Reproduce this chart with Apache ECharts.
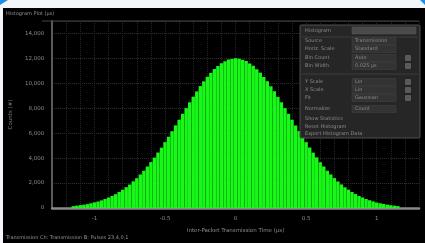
<!DOCTYPE html>
<html>
<head>
<meta charset="utf-8">
<script src="https://cdn.jsdelivr.net/npm/echarts@6/dist/echarts.min.js"></script>
<style>
    html, body { margin: 0; padding: 0; background: #f3f7fb; }
    #chart { width: 425px; height: 243px; }
</style>
</head>
<body>
<div id="chart"></div>
<script>
// histogram bins: first bin centre, bin width, counts per bin
const binStart = -1.15;
const binWidth = 0.025;
const counts = [
    150, 190, 230, 270, 310, 380, 450, 520, 610, 720,
    840, 970, 1110, 1290, 1460, 1670, 1880, 2140, 2390, 2690,
    2990, 3330, 3680, 4040, 4450, 4840, 5280, 5720, 6160, 6630,
    7080, 7560, 8010, 8480, 8930, 9350, 9780, 10160, 10530, 10840,
    11150, 11390, 11620, 11770, 11910, 11960, 12010,
    11980, 11890, 11790, 11600, 11410, 11130, 10860, 10510, 10170, 9760,
    9370, 8920, 8480, 8010, 7560, 7080, 6620, 6170, 5710, 5280,
    4850, 4440, 4060, 3670, 3330, 2990, 2690, 2400, 2130, 1890,
    1660, 1470, 1280, 1120, 960, 840, 720, 620, 530, 440,
    380, 320, 270, 220, 190, 150
];
const xTickLabels = ['-1', '-0.5', '0', '0.5', '1'];
const yTickLabels = ['0', '2,000', '4,000', '6,000', '8,000', '10,000', '12,000', '14,000'];

const titleText = 'Histogram Plot (\u00b5s)';
const xName = 'Inter-Packet Transmission Time (\u00b5s)';
const yName = 'Counts (#)';
const footerText = 'Transmission Ch: Transmission B: Pulses 23,4,0,1';

// settings panel rows (label, value, has checkbox, y)
const panelRows = [
    ['Source', 'Transmission', false, 41],
    ['Horiz. Scale', 'Standard', false, 49],
    ['Bin Count', 'Auto', true, 58],
    ['Bin Width', '0.025 \u00b5s', true, 66],
    ['Y Scale', 'Lin', true, 82],
    ['X Scale', 'Lin', true, 90],
    ['Fit', 'Gaussian', true, 98],
    ['Normalize', 'Count', false, 109]
];
const panelLinks = [['Show Statistics', 119], ['Reset Histogram', 127], ['Export Histogram Data', 134]];

const barData = counts.map((c, i) => [binStart + i * binWidth, c]);

const chart = echarts.init(document.getElementById('chart'), null, { renderer: 'canvas' });

const txt = { fill: '#8a8a8a', fontSize: 5, fontFamily: 'DejaVu Sans' };

const panel = [];
panel.push({ type: 'rect', shape: { x: 300, y: 25, width: 120, height: 113, r: 1 },
    style: { fill: 'rgba(40,40,40,0.96)', stroke: '#505050', lineWidth: 1 }, z: 100 });
panel.push({ type: 'text', x: 305, y: 28, style: Object.assign({ text: 'Histogram' }, txt), z: 101 });
panel.push({ type: 'rect', shape: { x: 352, y: 27, width: 64, height: 7 },
    style: { fill: '#4a4a4a', stroke: '#5a5a5a', lineWidth: 0.5 }, z: 101 });
panel.push({ type: 'line', shape: { x1: 302, y1: 37, x2: 418, y2: 37 }, style: { stroke: '#3c3c3c', lineWidth: 1 }, z: 101 });
panel.push({ type: 'line', shape: { x1: 302, y1: 74, x2: 418, y2: 74 }, style: { stroke: '#3c3c3c', lineWidth: 1 }, z: 101 });
panelRows.forEach(r => {
    panel.push({ type: 'text', x: 305, y: r[3] - 3, style: Object.assign({ text: r[0] }, txt), z: 101 });
    panel.push({ type: 'rect', shape: { x: 352, y: r[3] - 3.5, width: 44, height: 7 },
        style: { fill: '#333', stroke: '#454545', lineWidth: 0.5 }, z: 101 });
    panel.push({ type: 'text', x: 355, y: r[3] - 3, style: Object.assign({ text: r[1] }, txt), z: 102 });
    if (r[2]) {
        panel.push({ type: 'rect', shape: { x: 405, y: r[3] - 3, width: 6, height: 6, r: 1 },
            style: { fill: '#5a5a5a' }, z: 101 });
    }
});
panelLinks.forEach(r => {
    panel.push({ type: 'text', x: 305, y: r[1] - 3, style: Object.assign({ text: r[0] }, txt), z: 101 });
});

const option = {
    backgroundColor: '#000',
    animation: false,
    grid: { left: 42, right: 6, top: 21, bottom: 35, containLabel: false },
    xAxis: {
        type: 'value',
        min: -1.3,
        max: 1.3,
        interval: 0.1,
        name: xName,
        nameLocation: 'middle',
        nameGap: 20,
        nameTextStyle: { color: '#8a8a8a', fontSize: 5.5, fontFamily: 'DejaVu Sans' },
        axisLine: { show: true, onZero: false, lineStyle: { color: '#8a8a8a', width: 2.5 } },
        axisTick: { show: false },
        axisLabel: {
            color: '#8a8a8a', fontSize: 5.5, fontFamily: 'DejaVu Sans', margin: 8,
            showMinLabel: false, showMaxLabel: false,
            formatter: v => {
                const k = Math.round(v * 2);
                if (Math.abs(v * 2 - k) > 1e-6) return '';
                return xTickLabels[k + 2] || '';
            }
        },
        splitLine: { show: true, lineStyle: { color: '#262626', type: 'dotted', width: 1 } }
    },
    yAxis: {
        type: 'value',
        min: 0,
        max: 15000,
        interval: 2000,
        name: yName,
        nameLocation: 'middle',
        nameGap: 29,
        nameTextStyle: { color: '#7a7a7a', fontSize: 5.5, fontFamily: 'DejaVu Sans' },
        axisLine: { show: true, onZero: false, lineStyle: { color: '#5a5a5a', width: 2 } },
        axisTick: { show: false },
        axisLabel: {
            color: '#8a8a8a', fontSize: 5.5, fontFamily: 'DejaVu Sans', margin: 8,
            showMaxLabel: false,
            formatter: v => yTickLabels[Math.round(v / 2000)] || ''
        },
        splitLine: { show: true, lineStyle: { color: '#333', type: 'dotted', width: 1 } }
    },
    graphic: [
        { type: 'rect', shape: { x: 0, y: 0, width: 425, height: 8 }, style: { fill: '#f3f7fb' }, z: 200 },
        { type: 'rect', shape: { x: 0, y: 0, width: 3, height: 243 }, style: { fill: '#f3f7fb' }, z: 200 },
        { type: 'polygon', shape: { points: [[0, 0], [8, 0], [0, 5]] }, style: { fill: '#1e8fe8' }, z: 201 },
        { type: 'polygon', shape: { points: [[420, 0], [425, 0], [425, 5]] }, style: { fill: '#1e8fe8' }, z: 201 },
        { type: 'rect', shape: { x: 42, y: 20.5, width: 377, height: 1 }, style: { fill: '#444' }, z: 50 },
        { type: 'text', x: 6, y: 11, style: Object.assign({ text: titleText }, txt, { fill: '#949494' }), z: 60 },
        { type: 'text', x: 6, y: 235, style: Object.assign({ text: footerText }, txt, { fill: '#949494' }), z: 60 }
    ].concat(panel),
    series: [
        {
            type: 'bar',
            barWidth: 3.4,
            data: barData,
            itemStyle: { color: '#18f818' },
            emphasis: { disabled: true }
        }
    ]
};

chart.setOption(option);
</script>
</body>
</html>
